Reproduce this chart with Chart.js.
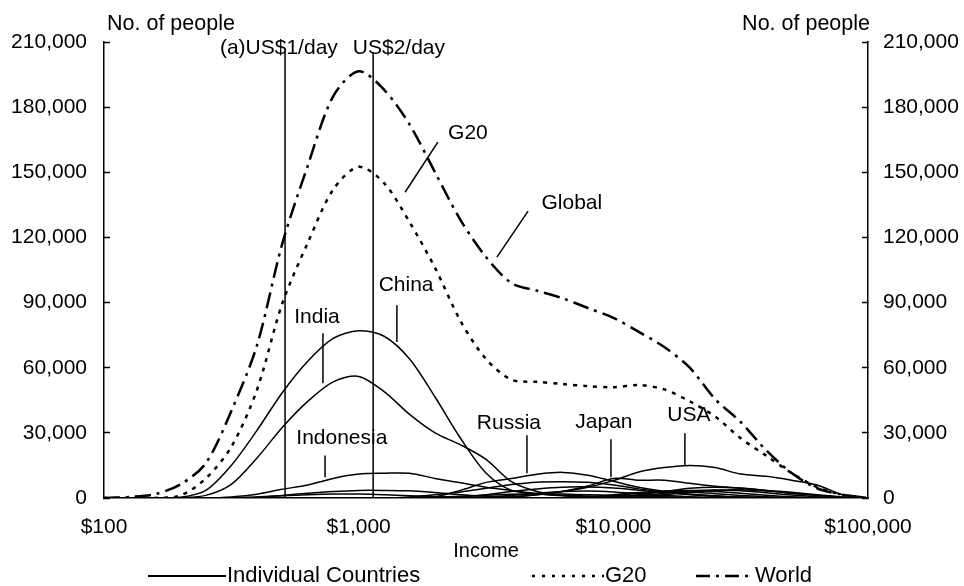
<!DOCTYPE html>
<html>
<head>
<meta charset="utf-8">
<script src="https://cdn.jsdelivr.net/npm/chart.js@4.4.1/dist/chart.umd.min.js"></script>
<style>
html, body { margin: 0; padding: 0; background: #fff; }
</style>
</head>
<body>
<canvas id="incomeChart" width="964" height="586"></canvas>
<script>
// income bins (US$ per year, log spaced)
var incomes = [100, 126, 158, 200, 251, 316, 398, 501, 631, 794,
    1000, 1259, 1585, 1995, 2512, 3162, 3981, 5012, 6310, 7943,
    10000, 12589, 15849, 19953, 25119, 31623, 39811, 50119, 63096, 79433, 100000];

var world = [0, 500, 1700, 6300, 16000, 40000, 70000, 117000, 153000, 185000,
    196500, 188000, 172000, 150000, 128000, 111000, 99000, 95500, 92000, 87500,
    83000, 76500, 69500, 60000, 45500, 35000, 22000, 11500, 4500, 1500, 0];
var g20 = [0, 0, 0, 1200, 9000, 23500, 49500, 89500, 117500, 142000,
    152500, 145000, 127000, 106000, 81500, 64000, 54500, 53500, 52500, 51500,
    51000, 52000, 50000, 44500, 37500, 27500, 19500, 11500, 5000, 1500, 0];

// individual countries
var china = [0, 0, 0, 300, 3500, 15000, 31000, 48500, 63000, 73500,
    77000, 74500, 64000, 46500, 27500, 11500, 3500, 2000, 1300, 900,
    500, 200, 0, 0, 0, 0, 0, 0, 0, 0, 0];
var india = [0, 0, 0, 200, 1200, 6300, 18300, 32500, 44500, 53500,
    56000, 49000, 38500, 30000, 24500, 17800, 7500, 3000, 1200, 500,
    200, 0, 0, 0, 0, 0, 0, 0, 0, 0, 0];
var indonesia = [0, 0, 0, 0, 0, 500, 1700, 4000, 6000, 9000,
    11000, 11400, 11400, 9000, 7000, 5000, 3500, 2000, 1000, 500,
    200, 0, 0, 0, 0, 0, 0, 0, 0, 0, 0];
var russia = [0, 0, 0, 0, 0, 0, 0, 0, 0, 0,
    0, 0, 0, 500, 3500, 7200, 9000, 10900, 11800, 10500,
    7700, 4900, 3000, 1700, 800, 300, 0, 0, 0, 0, 0];
var japan = [0, 0, 0, 0, 0, 0, 0, 0, 0, 0,
    0, 0, 0, 0, 0, 0, 500, 1500, 3000, 5500,
    9000, 8200, 8200, 6800, 5400, 4500, 3500, 2600, 1500, 500, 0];
var usa = [0, 0, 0, 0, 0, 0, 0, 0, 0, 0,
    0, 0, 0, 0, 0, 0, 500, 1500, 3000, 5000,
    8000, 12000, 14000, 15000, 14000, 11000, 10000, 8200, 6000, 1500, 0];
var pakistan = [0, 0, 0, 0, 0, 0, 300, 1200, 2200, 3000,
    3500, 3500, 3300, 2500, 1500, 800, 300, 0, 0, 0,
    0, 0, 0, 0, 0, 0, 0, 0, 0, 0, 0];
var nigeria = [0, 0, 0, 0, 0, 0, 500, 1000, 1500, 1800,
    1800, 1500, 1000, 600, 300, 0, 0, 0, 0, 0,
    0, 0, 0, 0, 0, 0, 0, 0, 0, 0, 0];
var brazil = [0, 0, 0, 0, 0, 0, 0, 0, 0, 0,
    0, 0, 500, 1500, 2800, 4500, 6200, 7300, 7500, 7200,
    6000, 4200, 2800, 1700, 1000, 500, 200, 0, 0, 0, 0];
var mexico = [0, 0, 0, 0, 0, 0, 0, 0, 0, 0,
    0, 0, 0, 0, 500, 1500, 3000, 4200, 5000, 5100,
    4600, 3600, 2500, 1500, 800, 300, 0, 0, 0, 0, 0];
var turkey = [0, 0, 0, 0, 0, 0, 0, 0, 0, 0,
    0, 0, 0, 0, 0, 500, 1200, 2200, 3000, 3200,
    2800, 2000, 1200, 600, 200, 0, 0, 0, 0, 0, 0];
var southAfrica = [0, 0, 0, 0, 0, 0, 0, 0, 0, 0,
    0, 0, 0, 300, 800, 1300, 1700, 1900, 1800, 1500,
    1200, 900, 600, 300, 0, 0, 0, 0, 0, 0, 0];
var korea = [0, 0, 0, 0, 0, 0, 0, 0, 0, 0,
    0, 0, 0, 0, 0, 0, 0, 0, 0, 500,
    1500, 2500, 3000, 2800, 2000, 1200, 600, 200, 0, 0, 0];
var italy = [0, 0, 0, 0, 0, 0, 0, 0, 0, 0,
    0, 0, 0, 0, 0, 0, 0, 0, 0, 300,
    1000, 2200, 3200, 3500, 3000, 2200, 1300, 600, 200, 0, 0];
var france = [0, 0, 0, 0, 0, 0, 0, 0, 0, 0,
    0, 0, 0, 0, 0, 0, 0, 0, 0, 0,
    300, 1000, 2200, 3300, 3700, 3300, 2400, 1400, 600, 200, 0];
var uk = [0, 0, 0, 0, 0, 0, 0, 0, 0, 0,
    0, 0, 0, 0, 0, 0, 0, 0, 0, 0,
    0, 500, 1500, 2800, 3600, 3800, 3200, 2200, 1200, 400, 0];
var germany = [0, 0, 0, 0, 0, 0, 0, 0, 0, 0,
    0, 0, 0, 0, 0, 0, 0, 0, 0, 0,
    500, 1500, 3000, 4500, 5000, 4600, 3500, 2200, 1200, 400, 0];

var countries = [china, india, indonesia, russia, japan, usa, pakistan, nigeria,
    brazil, mexico, turkey, southAfrica, korea, italy, france, uk, germany];

var xTicks = [100, 1000, 10000, 100000];
var yTicks = [0, 30000, 60000, 90000, 120000, 150000, 180000, 210000];

// poverty lines and callout labels, in data units
var povertyLines = [
    { label: '(a)US$1/day', income: 514, labelAt: 486 },
    { label: 'US$2/day', income: 1140, labelAt: 1439 }
];
var callouts = [
    { text: 'G20', at: [2685, 168000], from: [2046, 163900], to: [1521, 140800] },
    { text: 'Global', at: [6871, 135800], from: [4625, 132100], to: [3491, 110900] },
    { text: 'China', at: [1535, 98000], from: [1413, 88800], to: [1413, 71800] },
    { text: 'India', at: [686, 83200], from: [724, 75900], to: [724, 52900] },
    { text: 'Indonesia', at: [859, 27500], from: [738, 19600], to: [738, 9500] },
    { text: 'Russia', at: [3890, 34400], from: [4579, 28900], to: [4579, 11400] },
    { text: 'Japan', at: [9183, 34900], from: [9788, 27100], to: [9788, 9500] },
    { text: 'USA', at: [19800, 38100], from: [19100, 29800], to: [19100, 15100] }
];

var FAMILY = '"Liberation Sans", Arial, sans-serif';

function toPoints(values) {
    return values.map(function (v, i) { return { x: incomes[i], y: v }; });
}
function fmt(v) { return Number(v).toLocaleString('en-US'); }

var datasets = countries.map(function (c) {
    return { label: 'Individual Countries', data: toPoints(c), borderColor: '#000',
        borderWidth: 1.5, pointRadius: 0, tension: 0.3, fill: false };
});
datasets.push({ label: 'G20', data: toPoints(g20), borderColor: '#000', borderWidth: 2.5,
    borderDash: [4, 6], pointRadius: 0, tension: 0.3, fill: false });
datasets.push({ label: 'World', data: toPoints(world), borderColor: '#000', borderWidth: 2.5,
    borderDash: [16, 6, 3, 6], pointRadius: 0, tension: 0.3, fill: false });

var legendItems = [
    { text: 'Individual Countries', x1: 148, x2: 226, dash: [], width: 2 },
    { text: 'G20', x1: 532, x2: 604, dash: [3, 7], width: 2.5 },
    { text: 'World', x1: 696, x2: 754, dash: [14, 6, 3, 6], width: 2.5 }
];

var extras = {
    id: 'extras',
    afterDatasetsDraw: function (chart) {
        var ctx = chart.ctx, x = chart.scales.x, y = chart.scales.y;
        ctx.save();
        ctx.strokeStyle = '#000';
        ctx.fillStyle = '#000';
        ctx.font = '21px ' + FAMILY;
        ctx.lineWidth = 1.5;
        ctx.textBaseline = 'middle';
        ctx.textAlign = 'center';
        povertyLines.forEach(function (p) {
            var px = x.getPixelForValue(p.income);
            ctx.beginPath();
            ctx.moveTo(px, y.getPixelForValue(0));
            ctx.lineTo(px, y.getPixelForValue(205400));
            ctx.stroke();
            ctx.fillText(p.label, x.getPixelForValue(p.labelAt), y.getPixelForValue(207000));
        });
        callouts.forEach(function (c) {
            ctx.beginPath();
            ctx.moveTo(x.getPixelForValue(c.from[0]), y.getPixelForValue(c.from[1]));
            ctx.lineTo(x.getPixelForValue(c.to[0]), y.getPixelForValue(c.to[1]));
            ctx.stroke();
            ctx.fillText(c.text, x.getPixelForValue(c.at[0]), y.getPixelForValue(c.at[1]));
        });
        // axis captions
        ctx.font = '21.5px ' + FAMILY;
        ctx.textBaseline = 'alphabetic';
        ctx.textAlign = 'left';
        ctx.fillText('No. of people', 107, 30);
        ctx.textAlign = 'right';
        ctx.fillText('No. of people', 870, 30);
        // legend
        ctx.font = '22px ' + FAMILY;
        ctx.textAlign = 'left';
        ctx.textBaseline = 'middle';
        legendItems.forEach(function (it) {
            ctx.save();
            ctx.lineWidth = it.width;
            ctx.setLineDash(it.dash);
            ctx.beginPath();
            ctx.moveTo(it.x1, 576);
            ctx.lineTo(it.x2, 576);
            ctx.stroke();
            ctx.restore();
            ctx.fillText(it.text, it.x2 + 1, 576);
        });
        ctx.restore();
    }
};

var yAxisCommon = {
    min: 0, max: 210000,
    afterBuildTicks: function (scale) { scale.ticks = yTicks.map(function (v) { return { value: v }; }); },
    grid: { drawOnChartArea: false, drawTicks: true, tickLength: -6, color: '#000', tickWidth: 1.5 },
    border: { display: true, color: '#000', width: 1.5 },
    ticks: { color: '#000', font: { family: FAMILY, size: 21 },
        callback: function (v) { return fmt(v); } }
};

var ctx = document.getElementById('incomeChart');
var incomeChart = new Chart(ctx, {
    type: 'line',
    data: { datasets: datasets },
    plugins: [extras],
    options: {
        responsive: false,
        animation: false,
        layout: { padding: { top: 42, left: 0, right: 0, bottom: 0 } },
        plugins: { legend: { display: false }, tooltip: { enabled: false } },
        scales: {
            x: {
                type: 'logarithmic', min: 100, max: 100000,
                afterBuildTicks: function (scale) { scale.ticks = xTicks.map(function (v) { return { value: v }; }); },
                afterFit: function (scale) { scale.height = 88; },
                grid: { display: false, drawTicks: false },
                border: { display: true, color: '#000', width: 1.5 },
                ticks: { color: '#000', padding: 17, autoSkip: false, maxRotation: 0,
                    font: { family: FAMILY, size: 21, lineHeight: 1.2 },
                    callback: function (v) { return '$' + fmt(v); } },
                title: { display: true, text: 'Income', color: '#000',
                    font: { family: FAMILY, size: 20, lineHeight: 1.2 },
                    padding: { top: 0, bottom: 23 } }
            },
            y: Object.assign({}, yAxisCommon, {
                position: 'left',
                afterFit: function (scale) { scale.width = 104; },
                ticks: Object.assign({}, yAxisCommon.ticks, { padding: 23 })
            }),
            y2: Object.assign({}, yAxisCommon, {
                position: 'right',
                afterFit: function (scale) { scale.width = 96; },
                ticks: Object.assign({}, yAxisCommon.ticks, { padding: 21 })
            })
        }
    }
});
</script>
</body>
</html>
